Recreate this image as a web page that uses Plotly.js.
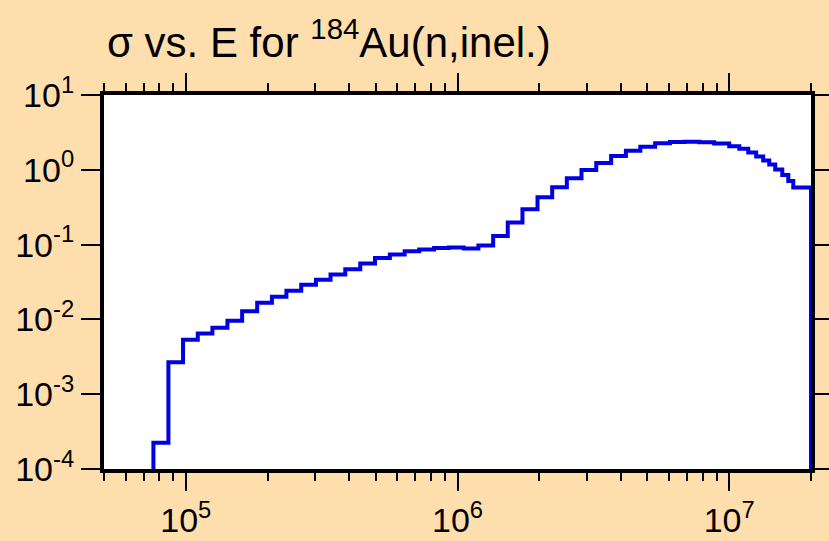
<!DOCTYPE html>
<html>
<head>
<meta charset="utf-8">
<script src="https://cdn.plot.ly/plotly-3.0.1.min.js"></script>
<style>html,body{margin:0;padding:0;background:#FFDEAD;}#chart{width:829px;height:541px;}</style>
</head>
<body>
<div id="chart"></div>
<script>
// Bin edges (eV) of the histogram
const energyEdges = [7.60e4, 8.63e4, 9.77e4, 1.107e5, 1.253e5, 1.423e5, 1.612e5, 1.831e5, 2.075e5, 2.346e5,
  2.66e5, 3.013e5, 3.41e5, 3.863e5, 4.387e5, 4.97e5, 5.636e5, 6.39e5, 7.23e5, 8.20e5,
  9.28e5, 1.054e6, 1.194e6, 1.353e6, 1.531e6, 1.734e6, 1.970e6, 2.231e6, 2.526e6, 2.860e6,
  3.241e6, 3.677e6, 4.167e6, 4.708e6, 5.338e6, 6.051e6, 6.857e6, 7.768e6, 8.806e6, 1.0e7,
  1.089e7, 1.175e7, 1.257e7, 1.334e7, 1.404e7, 1.477e7, 1.568e7, 1.650e7, 1.721e7, 2.0e7];
// Cross section (b) in each bin
const sigma = [2.24e-4, 2.67e-3, 5.36e-3, 6.48e-3, 7.75e-3, 9.61e-3, 1.29e-2, 1.67e-2, 2.01e-2, 2.42e-2,
  2.91e-2, 3.39e-2, 3.99e-2, 4.68e-2, 5.59e-2, 6.60e-2, 7.38e-2, 8.14e-2, 8.60e-2, 8.98e-2,
  9.12e-2, 8.84e-2, 9.73e-2, 0.130, 0.197, 0.298, 0.431, 0.586, 0.772, 0.997,
  1.236, 1.533, 1.804, 2.040, 2.265, 2.358, 2.373, 2.336, 2.251, 2.072,
  1.919, 1.707, 1.510, 1.335, 1.181, 1.012, 0.855, 0.711, 0.582];
const floorValue = 1e-6; // below the axis: closes the histogram at both ends

const xMajor = [1e5, 1e6, 1e7];
const xMajorText = ['10<sup>5</sup>', '10<sup>6</sup>', '10<sup>7</sup>'];
const yMajor = [1e-4, 1e-3, 1e-2, 1e-1, 1e0, 1e1];
const yMajorText = ['10<sup>-4</sup>', '10<sup>-3</sup>', '10<sup>-2</sup>', '10<sup>-1</sup>', '10<sup>0</sup>', '10<sup>1</sup>'];

const xMinor = [];
for (let p = 4; p <= 7; p++) for (let m = 2; m <= 9; m++) xMinor.push(m * Math.pow(10, p));

const trace = {
  x: [energyEdges[0]].concat(energyEdges),
  y: [floorValue].concat(sigma, [floorValue]),
  type: 'scatter', mode: 'lines',
  line: {shape: 'hv', color: '#0000E0', width: 4},
  hoverinfo: 'x+y'
};

const fontFamily = 'Liberation Sans, Arial, sans-serif';
const axisCommon = {
  type: 'log', showgrid: false, zeroline: false,
  showline: true, linewidth: 4, linecolor: '#000', mirror: 'allticks',
  ticks: 'outside', tickwidth: 2, tickcolor: '#000',
  tickmode: 'array',
  tickfont: {family: fontFamily, size: 34, color: '#000'}
};

const layout = {
  width: 829, height: 541,
  paper_bgcolor: '#FFDEAD', plot_bgcolor: '#FFFFFF',
  margin: {l: 104, r: 18, t: 95, b: 72, pad: 0},
  showlegend: false,
  title: {
    text: 'σ vs. E for <sup>184</sup>Au(n,inel.)',
    font: {family: fontFamily, size: 42, color: '#000'},
    xref: 'container', yref: 'container',
    x: 107 / 829, xanchor: 'left',
    y: 1 - 42 / 541, yanchor: 'middle'
  },
  xaxis: Object.assign({}, axisCommon, {
    range: [Math.log10(5e4), Math.log10(2e7)],
    tickvals: xMajor, ticktext: xMajorText, ticklen: 18,
    minor: {tickmode: 'array', tickvals: xMinor, ticks: 'outside', ticklen: 8, tickwidth: 2, tickcolor: '#000', showgrid: false}
  }),
  yaxis: Object.assign({}, axisCommon, {
    range: [-4, 1],
    tickvals: yMajor, ticktext: yMajorText, ticklen: 19
  })
};

Plotly.newPlot('chart', [trace], layout, {displayModeBar: false, staticPlot: true});
</script>
</body>
</html>
